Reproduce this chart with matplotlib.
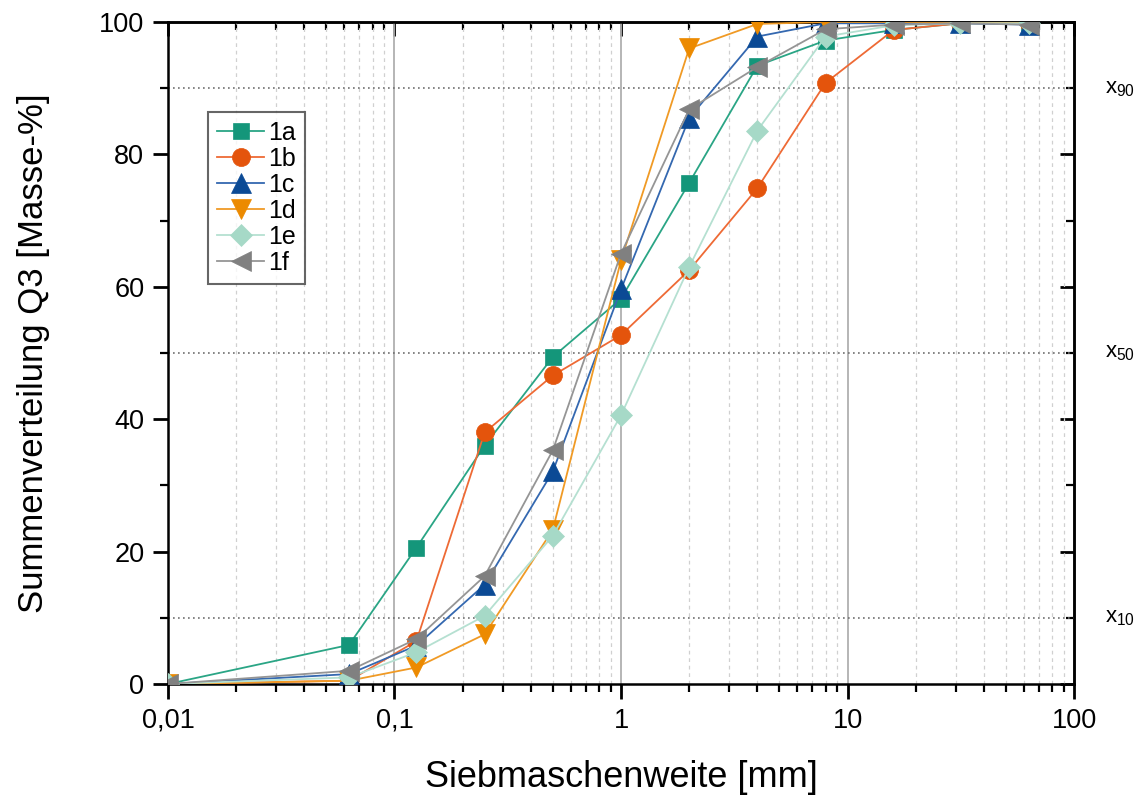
import matplotlib
matplotlib.use("Agg")
import matplotlib.pyplot as plt
from matplotlib.ticker import FixedLocator, FuncFormatter, NullFormatter, MultipleLocator
import numpy as np

plt.rcParams['font.family'] = ['Liberation Sans', 'DejaVu Sans']
plt.rcParams['mathtext.fontset'] = 'custom'
plt.rcParams['mathtext.rm'] = 'Liberation Sans'
plt.rcParams['mathtext.it'] = 'Liberation Sans'

sizes = [0.01, 0.063, 0.125, 0.25, 0.5, 1, 2, 4, 8, 16, 31.5, 63]
s1a = [0.0, 5.9, 20.6, 36.0, 49.4, 58.2, 75.7, 93.4, 97.2, 98.8, 99.8, 99.8]
s1b = [0.0, 0.5, 6.5, 38.0, 46.6, 52.7, 62.5, 74.9, 90.8, 98.8, 99.8, 99.8]
s1c = [0.0, 1.5, 5.8, 15.0, 32.1, 59.6, 85.5, 97.8, 99.8, 99.8, 99.8, 99.6]
s1d = [0.0, 0.5, 2.5, 7.5, 23.3, 64.0, 96.0, 99.7, 100.0, 100.0, 100.0, 100.0]
s1e = [0.0, 1.0, 4.8, 10.3, 22.4, 40.6, 63.0, 83.6, 97.8, 99.5, 99.8, 99.8]
s1f = [0.0, 2.0, 6.8, 16.3, 35.3, 65.0, 86.8, 93.2, 98.9, 99.6, 99.8, 99.6]

names = ['1a', '1b', '1c', '1d', '1e', '1f']
series = [s1a, s1b, s1c, s1d, s1e, s1f]
markers = ['s', 'o', '^', 'v', 'D', '<']
mcolors = ['#14967a', '#e4540c', '#0b4a95', '#ec8a00', '#a6d9c7', '#808080']
lcolors = ['#2aa585', '#ee6a35', '#3468b0', '#f09a25', '#b5e0d1', '#959595']
msizes = [11, 13, 14, 14, 11, 14]

ref_levels = [10, 50, 90]
ref_labels = ['x$_{10}$', 'x$_{50}$', 'x$_{90}$']

fig = plt.figure(figsize=(11.38, 7.96), dpi=100)
ax = fig.add_axes([0.1476, 0.1407, 0.7962, 0.8317])

for name, s, m, mc, lc, ms in zip(names, series, markers, mcolors, lcolors, msizes):
    ax.plot(sizes, s, color=lc, lw=1.3, marker=m, markersize=ms,
            markerfacecolor=mc, markeredgecolor=mc, markeredgewidth=0.5,
            label=name, zorder=3)

ax.set_xscale('log')
ax.set_xlim(0.01, 100)
ax.set_ylim(0, 100)

# grid
for d in [0.1, 1, 10]:
    ax.axvline(d, color='#b0b0b0', lw=1.3, zorder=1)
minors = [m * 10.0**e for e in range(-2, 2) for m in range(2, 10)]
for v in minors:
    ax.axvline(v, color='#d0d0d0', lw=0.9, ls=(0, (3, 3)), zorder=1)
for lv, lab in zip(ref_levels, ref_labels):
    ax.axhline(lv, color='#707070', lw=1.2, ls=(0, (1, 2)), zorder=1)
    ax.text(1.034, lv, lab, transform=ax.get_yaxis_transform(), ha='left',
            va='center', fontsize=16)

ax.xaxis.set_major_locator(FixedLocator([0.01, 0.1, 1, 10, 100]))
ax.xaxis.set_minor_locator(FixedLocator(minors))
ax.xaxis.set_minor_formatter(NullFormatter())
ax.xaxis.set_major_formatter(FuncFormatter(lambda v, p: {0.01: '0,01', 0.1: '0,1', 1: '1', 10: '10', 100: '100'}.get(round(v, 2), '')))
ax.yaxis.set_major_locator(MultipleLocator(20))
ax.yaxis.set_minor_locator(MultipleLocator(10))

ax.tick_params(which='major', direction='out', length=11, width=2, labelsize=19.5, pad=6)
ax.tick_params(which='minor', direction='out', length=6, width=1.6)
ax.tick_params(which='both', top=False, right=False)
for sp in ax.spines.values():
    sp.set_linewidth(1.8)

# top and right inward ticks
sec_x = ax.secondary_xaxis('top')
sec_x.xaxis.set_major_locator(FixedLocator([0.01, 0.1, 1, 10, 100]))
sec_x.xaxis.set_minor_locator(FixedLocator(minors))
sec_x.tick_params(which='major', direction='in', length=10, width=2, labeltop=False)
sec_x.tick_params(which='minor', direction='in', length=6, width=1.6, labeltop=False)
sec_x.spines['top'].set_linewidth(1.8)
sec_y = ax.secondary_yaxis('right')
sec_y.yaxis.set_major_locator(MultipleLocator(20))
sec_y.yaxis.set_minor_locator(MultipleLocator(10))
sec_y.tick_params(which='major', direction='in', length=10, width=2, labelright=False)
sec_y.tick_params(which='minor', direction='in', length=6, width=1.6, labelright=False)
sec_y.spines['right'].set_linewidth(1.8)

ax.set_xlabel('Siebmaschenweite [mm]', fontsize=26, labelpad=19)
ax.set_ylabel('Summenverteilung Q3 [Masse-%]', fontsize=25, labelpad=35)

leg = ax.legend(loc='upper left', bbox_to_anchor=(0.0442, 0.864), borderaxespad=0,
                fontsize=18, frameon=True, fancybox=False, edgecolor='#404040',
                borderpad=0.35, labelspacing=0.08, handlelength=1.9, handletextpad=0.15)
leg.get_frame().set_linewidth(1.5)

fig.savefig('out.png', dpi=100)
